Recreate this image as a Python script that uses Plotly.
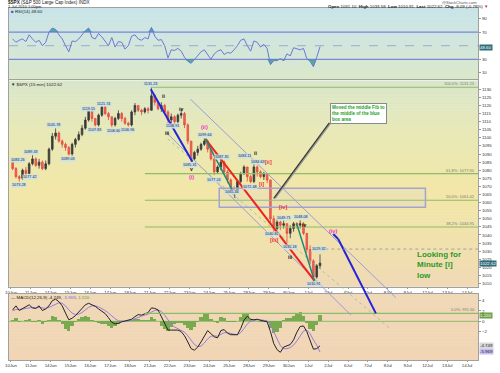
import plotly.graph_objects as go

# ---------------- data ----------------
dates = ["10Jun", "11Jun", "14Jun", "15Jun", "16Jun", "17Jun", "18Jun", "21Jun", "22Jun",
         "23Jun", "24Jun", "25Jun", "28Jun", "29Jun", "30Jun", "1Jul", "2Jul", "6Jul",
         "7Jul", "8Jul", "9Jul", "12Jul", "13Jul", "14Jul"]
BARS_PER_DAY = 6

first_open = 1085.0
close = [1081, 1076, 1075, 1080, 1078, 1084,
         1087, 1083, 1085, 1081, 1084, 1093,
         1101, 1103, 1098, 1096, 1094, 1090,
         1096, 1099, 1102, 1106, 1111, 1117,
         1112, 1108, 1114, 1119, 1115, 1113,
         1108, 1112, 1115, 1112, 1109, 1108,
         1116, 1120, 1117, 1116, 1118, 1117,
         1126, 1122, 1118, 1120, 1116, 1111,
         1113, 1110, 1114, 1115, 1108, 1098,
         1087, 1091, 1093, 1096, 1098, 1093,
         1087, 1079, 1082, 1085, 1079, 1074,
         1068, 1067, 1073, 1078, 1082, 1076,
         1073, 1082, 1079, 1076, 1078, 1074,
         1050, 1044, 1048, 1046, 1047, 1041,
         1044, 1047, 1046, 1047, 1041, 1031,
         1024, 1014, 1021, 1022.62]
high = [1086, 1082, 1077, 1081, 1082, 1085,
        1089.3, 1088, 1087, 1086, 1086, 1094,
        1103, 1105.8, 1104, 1099, 1097, 1095,
        1097, 1100, 1104, 1108, 1113, 1119,
        1117, 1112, 1115, 1121, 1120, 1116,
        1113, 1113, 1117, 1116, 1113, 1110,
        1117, 1121.5, 1120, 1118, 1119, 1119,
        1131.2, 1127, 1123, 1122, 1121, 1117,
        1115, 1114, 1115, 1118, 1116, 1109,
        1098, 1092, 1095, 1097, 1099.6, 1099,
        1093, 1088, 1083, 1087, 1086, 1080,
        1075, 1070, 1074, 1079, 1083.1, 1082,
        1077, 1084.6, 1083, 1080, 1079, 1078,
        1074, 1052, 1050, 1049, 1049, 1047,
        1046, 1048.1, 1048, 1049, 1048, 1041,
        1033.6, 1025, 1022, 1028]
low = [1080, 1075, 1073, 1074, 1077, 1078,
       1083, 1082, 1081, 1080, 1080, 1083,
       1092, 1099, 1097, 1094, 1092, 1089,
       1089, 1094, 1098, 1101, 1105, 1110,
       1110, 1107, 1107, 1113, 1114, 1111,
       1106.6, 1107, 1111, 1110, 1108, 1107,
       1107, 1114, 1116, 1114, 1115, 1115,
       1117, 1120, 1117, 1116, 1115, 1109,
       1109, 1108, 1109, 1112, 1106, 1096,
       1085.3, 1086, 1089, 1092, 1095, 1091,
       1086, 1077, 1078, 1080, 1078, 1072,
       1066, 1064.5, 1066, 1072, 1077, 1073,
       1072, 1072, 1076, 1075, 1074, 1072,
       1048, 1040.8, 1043, 1043, 1044, 1035.2,
       1038, 1042, 1044, 1044, 1040, 1029,
       1022, 1010.9, 1013, 1019]

rsi = [60, 55, 58, 60, 56, 66, 60, 55, 58, 50, 55, 70,
       76, 74, 66, 60, 50, 41, 57, 56, 60, 66, 72, 76,
       62, 60, 68, 63, 57, 50, 62, 48, 56, 55, 45, 50,
       64, 66, 60, 58, 62, 60, 77, 64, 58, 59, 50, 32,
       44, 43, 46, 42, 33, 27, 24, 30, 36, 41, 44, 36,
       30, 38, 42, 44, 37, 40, 39, 44, 50, 58, 60, 50,
       42, 57, 55, 48, 52, 46, 22, 28, 28, 31, 28, 38,
       35, 47, 46, 44, 46, 31, 27, 19, 33, 48.6]

macd = [2.2, 3.0, 2.1, 2.5, 2.8, 3.2, 2.6, 2.5, 3.0, 2.1, 2.4, 3.0,
        4.0, 4.3, 3.8, 3.0, 1.6, 0.3, 0.6, 1.1, 1.8, 2.5, 3.2, 3.5,
        3.2, 2.9, 2.4, 2.0, 1.5, 0.7, -0.2, -0.5, -0.4, -0.1, 0.1, 0.3,
        0.4, 0.9, 1.3, 1.2, 1.5, 1.7, 2.6, 2.5, 2.2, 1.0, -0.3, -1.7,
        -1.7, -1.7, -1.7, -2.0, -2.8, -4.0, -5.3, -5.6, -5.0, -4.0, -2.8, -1.8,
        -2.4, -3.0, -3.2, -1.8, -1.6, -2.3, -2.6, -2.6, -2.6, -1.4, 0.2, 1.0,
        0.4, 0.3, 0.4, 0.2, 0.0, -0.1, -2.0, -4.3, -5.5, -6.0, -5.0, -4.7,
        -4.5, -3.6, -2.1, -1.0, -0.9, -2.0, -3.8, -5.4, -5.3, -4.749]
signal = [2.0, 2.3, 2.3, 2.4, 2.5, 2.7, 2.7, 2.6, 2.7, 2.6, 2.5, 2.7,
          3.0, 3.4, 3.6, 3.5, 3.0, 2.2, 1.6, 1.3, 1.4, 1.7, 2.2, 2.7,
          3.0, 3.0, 2.8, 2.5, 2.1, 1.6, 1.0, 0.5, 0.1, 0.0, 0.0, 0.1,
          0.2, 0.5, 0.8, 1.0, 1.2, 1.4, 1.8, 2.1, 2.2, 1.9, 1.2, 0.2,
          -0.6, -1.1, -1.4, -1.7, -2.1, -2.8, -3.7, -4.5, -4.9, -4.8, -4.2, -3.4,
          -2.9, -2.8, -2.9, -2.6, -2.2, -2.2, -2.4, -2.5, -2.6, -2.2, -1.4, -0.5,
          0.0, 0.2, 0.3, 0.3, 0.2, 0.1, -0.7, -2.1, -3.5, -4.7, -5.3, -5.3,
          -5.1, -4.6, -3.8, -2.8, -1.9, -1.7, -2.4, -3.6, -4.6, -5.969]

fib_levels = [1131.23, 1077.90, 1061.42, 1044.95, 991.60]
fib_names = ["100.0%", "61.8%", "50.0%", "38.2%", "0.0%"]

# ---------------- geometry ----------------
W, H = 500, 373
ML, MR, MT, MB = 5, 22, 8, 10
PW, PH = W - ML - MR, H - MT - MB


def py(pix):
    return (H - MB - pix) / PH


def pxp(pix):
    return (pix - ML) / PW


RSI_DOM = [py(80), py(8)]
PRICE_DOM = [py(289), py(81)]
MACD_DOM = [0.0, py(296)]
X_RANGE = [-0.1, 23.55]
PRICE_RANGE = [1008.1, 1135.5]
RSI_RANGE = [0.4, 105.5]
MACD_RANGE = [-7.5, 5.38]


def pp(price):
    return PRICE_DOM[0] + (price - PRICE_RANGE[0]) / (PRICE_RANGE[1] - PRICE_RANGE[0]) * (PRICE_DOM[1] - PRICE_DOM[0])


n = len(close)
bx = [(i + 0.5) / BARS_PER_DAY for i in range(n)]
opens = [first_open] + close[:-1]
hist = [m - s for m, s in zip(macd, signal)]

fig = go.Figure()

# RSI fills and line
fig.add_trace(go.Scatter(x=bx, y=[70] * n, mode="lines", line=dict(width=0), xaxis="x", yaxis="y",
                         hoverinfo="skip", showlegend=False))
fig.add_trace(go.Scatter(x=bx, y=[max(v, 70) for v in rsi], mode="lines", line=dict(width=0), fill="tonexty",
                         fillcolor="rgba(55,150,150,0.8)", xaxis="x", yaxis="y", hoverinfo="skip", showlegend=False))
fig.add_trace(go.Scatter(x=bx, y=[30] * n, mode="lines", line=dict(width=0), xaxis="x", yaxis="y",
                         hoverinfo="skip", showlegend=False))
fig.add_trace(go.Scatter(x=bx, y=[min(v, 30) for v in rsi], mode="lines", line=dict(width=0), fill="tonexty",
                         fillcolor="rgba(55,150,150,0.8)", xaxis="x", yaxis="y", hoverinfo="skip", showlegend=False))
fig.add_trace(go.Scatter(x=bx, y=rsi, mode="lines", line=dict(color="#6b78d8", width=1), xaxis="x", yaxis="y",
                         showlegend=False))

# Price candles
fig.add_trace(go.Candlestick(x=bx, open=opens, high=high, low=low, close=close, xaxis="x2", yaxis="y2",
                             increasing=dict(line=dict(color="#3a3a3a", width=0.8), fillcolor="#3a3a3a"),
                             decreasing=dict(line=dict(color="#e5483f", width=0.8), fillcolor="#ee6a5c"),
                             whiskerwidth=0, showlegend=False))

# MACD
fig.add_trace(go.Bar(x=bx, y=hist, xaxis="x3", yaxis="y3", width=1 / BARS_PER_DAY,
                     marker=dict(color="#7aaa50", line=dict(width=0)), showlegend=False))
fig.add_trace(go.Scatter(x=bx, y=signal, mode="lines", line=dict(color="#9a7be0", width=1), xaxis="x3", yaxis="y3",
                         showlegend=False))
fig.add_trace(go.Scatter(x=bx, y=macd, mode="lines", line=dict(color="#222222", width=1), xaxis="x3", yaxis="y3",
                         showlegend=False))

shapes = []


# ---------------- gradient backgrounds ----------------
def h2r(h):
    h = h.lstrip("#")
    return [int(h[i:i + 2], 16) for i in (0, 2, 4)]


def interp(stops, y):
    if y <= stops[0][0]:
        return stops[0][1]
    for (y0, c0), (y1, c1) in zip(stops[:-1], stops[1:]):
        if y0 <= y <= y1:
            t = (y - y0) / (y1 - y0)
            a, b = h2r(c0), h2r(c1)
            return "rgb(%d,%d,%d)" % tuple(round(a[k] + (b[k] - a[k]) * t) for k in range(3))
    return stops[-1][1]


def stripes(top, bot, stops, step=3):
    y = top
    while y < bot:
        b = min(y + step, bot)
        shapes.append(dict(type="rect", xref="paper", yref="paper", x0=0, x1=1,
                           y0=py(min(b + 0.6, bot)), y1=py(y), fillcolor=interp(stops, (y + b) / 2),
                           line=dict(width=0), layer="below"))
        y = b


stripes(8, 80, [(8, "#c9e4e8"), (45, "#d2e6dc"), (80, "#dbe8c9")])
stripes(81, 289, [(81, "#d9e6cb"), (130, "#e7e9b8"), (190, "#f2e7a8"), (250, "#f1e1ae"), (289, "#efd9b6")])
stripes(296, 363, [(296, "#f0d9b8"), (363, "#f1d5b5")])

# RSI reference lines
for lvl, dash, col, w in [(70, "solid", "#7b86dc", 1.3), (30, "solid", "#7b86dc", 1.3), (50, "dash", "#a7a7c8", 1)]:
    shapes.append(dict(type="line", xref="paper", yref="y", x0=0, x1=1, y0=lvl, y1=lvl,
                       line=dict(color=col, width=w, dash=dash), layer="below"))
# MACD zero line
shapes.append(dict(type="line", xref="paper", yref="y3", x0=0, x1=1, y0=0, y1=0,
                   line=dict(color="#8dbb68", width=1), layer="below"))


def seg(x0, p0, x1, p1, color, width, dash="solid"):
    shapes.append(dict(type="line", xref="x2", yref="paper", x0=x0, x1=x1, y0=pp(p0), y1=pp(p1),
                       line=dict(color=color, width=width, dash=dash)))


# Fibonacci lines
fib_start = [7.05, 6.75, 6.75, 6.75, 6.75]
for lvl, xs in zip(fib_levels, fib_start):
    seg(xs, lvl, X_RANGE[1], lvl, "#8dbb68", 1.1)

# blue box
shapes.append(dict(type="rect", xref="x2", yref="paper", x0=10.5, x1=20.9, y0=pp(1057.1), y1=pp(1068.8),
                   line=dict(color="#a3a3d3", width=1.5), fillcolor="rgba(200,200,235,0.12)"))

# channel & trend lines
seg(9.05, 1123.9, 19.4, 1001.4, "#9b9bdb", 1)
seg(7.8, 1103.7, 17.15, 990.4, "#9b9bdb", 1)
seg(7.9, 1099.4, 19.15, 981.8, "#90c090", 0.8, "dot")
seg(7.05, 1130.0, 9.15, 1085.3, "#2424d8", 2)
seg(9.8, 1099.4, 15.3, 1011.8, "#ee2222", 2)
seg(9.8, 1099.4, 11.25, 1065.7, "#1b8a78", 1.5)
seg(14.4, 1047.3, 15.3, 1011.8, "#1b8a78", 1.5)
seg(16.25, 1040.6, 16.5, 1037.5, "#2424d8", 2)
seg(16.5, 1037.5, 18.4, 991.6, "#2424d8", 2)
seg(15.55, 1031.3, X_RANGE[1], 1031.3, "#a0a0a0", 1, "dot")
# callout pointer
seg(16.12, 1109.2, 13.32, 1062.6, "#9a9a9a", 1.5)
seg(16.05, 1109.2, 13.25, 1062.6, "#333333", 1.2)

annotations = []


def ann(text, x, y, xref="x2", yref="y2", size=5, color="#222", bold=False, xanchor="center", yanchor="middle",
        bg=None, border=None, align="center", pad=0):
    a = dict(text=("<b>%s</b>" % text) if bold else text, x=x, y=y, xref=xref, yref=yref, showarrow=False,
             font=dict(size=size, color=color, family="Liberation Sans, Arial, sans-serif"),
             xanchor=xanchor, yanchor=yanchor, align=align, borderpad=pad)
    if bg:
        a["bgcolor"] = bg
    if border:
        a["bordercolor"] = border
        a["borderwidth"] = 1
    annotations.append(a)


# header
ann("<b>$SPX</b> (S&P 500 Large Cap Index) INDX", pxp(3), py(2.5), "paper", "paper", size=4.6, xanchor="left")
ann("1-Jul-2010 1:00pm", pxp(3), py(6.5), "paper", "paper", size=4.0, xanchor="left")
ann("@StockCharts.com", pxp(478), py(2.3), "paper", "paper", size=4, color="#555", xanchor="right")
ann("<b>Open</b> 1031.10  <b>High</b> 1033.58  <b>Low</b> 1010.91  <b>Last</b> 1022.62  <b>Chg</b> -8.09 (-0.78%) "
    "<span style='color:#dd2222'>▼</span>", pxp(489), py(6.2), "paper", "paper", size=4.4, xanchor="right")

# legends
ann("<span style='color:#4455cc'>■</span> RSI(14) 48.60", pxp(6), py(11.5), "paper", "paper", size=4.4,
    xanchor="left")
ann("▼ $SPX (15 min) 1022.62", pxp(6), py(85), "paper", "paper", size=4.4, xanchor="left")
ann("— MACD(12,26,9) -4.749, <span style='color:#8a6ad8'>-5.969</span>, <span style='color:#5f9a3a'>1.220</span>",
    pxp(6), py(299.5), "paper", "paper", size=4.4, xanchor="left")

# right-side value boxes
ann("48.60", pxp(479), 47.6, "paper", "y", size=4.4, color="white", xanchor="left", bg="#2e6e7a")
ann("1022.62", pxp(479), 1022.62, "paper", "y2", size=4.4, color="white", xanchor="left", bg="#2e6e7a")
ann("1.220", pxp(479), 1.22, "paper", "y3", size=4.4, color="white", xanchor="left", bg="#6fa046")
ann("-4.749", pxp(479), -4.75, "paper", "y3", size=4.4, color="#222", xanchor="left", bg="#d9d9d9")
ann("-5.969", pxp(479), -5.9, "paper", "y3", size=4.4, color="#222", xanchor="left", bg="#c7bdf2")

# fib labels
for lvl, nm in zip(fib_levels, fib_names):
    ann("%s: %.2f" % (nm, lvl), pxp(476), pp(lvl), "paper", "paper", size=4, color="#7a7a7a",
        xanchor="right", yanchor="bottom")

# price labels
price_labels = [
    (-0.05, 1086.5, "1083.26"), (0.4, 1070.6, "1073.28"), (0.95, 1076.1, "1077.42"), (1.0, 1091.0, "1089.33"),
    (2.15, 1108.0, "1105.78"), (2.9, 1087.1, "1089.03"), (3.9, 1117.8, "1119.55"), (4.2, 1104.9, "1107.83"),
    (4.65, 1121.0, "1121.74"), (5.15, 1104.3, "1106.60"), (5.9, 1104.9, "1106.96"), (7.05, 1133.1, "1131.23"),
    (8.15, 1107.3, "1108.91"), (9.05, 1083.5, "1085.31"), (9.8, 1101.8, "1099.64"), (10.25, 1073.7, "1077.24"),
    (10.65, 1088.4, "1087.35"), (11.15, 1066.3, "1065.34"), (11.75, 1088.6, "1083.11"),
    (12.05, 1069.4, "1072.48"), (12.45, 1085.3, "1084.63"), (13.15, 1040.6, "1040.82"),
    (13.75, 1050.8, "1049.71"), (14.6, 1051.0, "1048.08"), (14.05, 1032.6, "1035.18"),
    (15.3, 1009.6, "1010.91"), (15.55, 1031.4, "1029.32"),
]
for x, y, t in price_labels:
    ann(t, x, y, size=3.8, color="#223", bg="rgba(200,225,236,0.95)", xanchor="left" if x < 0 else "center")

# wave labels
waves = [
    ("ii", "#111", 7.7, 1125.7), ("iii", "#111", 7.9, 1103.1), ("iv", "#111", 8.55, 1117.8),
    ("v", "#111", 9.1, 1081.0), ("(i)", "#ee33cc", 9.1, 1076.1), ("(ii)", "#ee33cc", 9.75, 1106.7),
    ("i", "#111", 11.3, 1063.9), ("ii", "#111", 12.35, 1090.5), ("[i]", "#ee3333", 12.65, 1071.2),
    ("[ii]", "#ee3333", 13.0, 1085.3), ("[iii]", "#ee3333", 13.25, 1036.9), ("[iv]", "#ee3333", 13.7, 1057.0),
    ("iii", "#111", 14.1, 1026.5), ("iv", "#111", 14.8, 1046.0), ("v", "#111", 15.3, 1006.3),
    ("(iii)", "#ee33cc", 15.35, 1000.8), ("(iv)", "#ee33cc", 16.25, 1042.4), ("(v)", "#ee33cc", 18.35, 987.3),
]
for t, c, x, y in waves:
    ann(t, x, y, size=5.5 if c != "#111" else 5, color=c, bold=True)

ann("ALT:[i]", 15.3, 995.3, size=6, color="#239a23", bold=True)
ann("[i]", 18.5, 981.2, size=7, color="#239a23", bold=True)
ann("Looking for<br>Minute [i]<br>low", 20.4, 1021.5, size=8, color="#2a9a2a", bold=True, xanchor="left",
    align="left")
ann("Moved the middle Fib to<br>the middle of the blue<br>box area", 16.1, 1121.4, size=4.6, color="#22a022",
    bold=True, xanchor="left", yanchor="top", bg="white", border="#8a8a8a", align="left", pad=1)

axis_font = dict(size=4.4, color="#333", family="Liberation Sans, Arial, sans-serif")
xcommon = dict(range=X_RANGE, showgrid=False, zeroline=False, showline=True, mirror=True, linecolor="#a0a0a0",
               linewidth=1, tickvals=list(range(len(dates))), ticktext=dates, tickfont=axis_font,
               ticks="outside", ticklen=1, tickcolor="#999")
ycommon = dict(side="right", showgrid=False, zeroline=False, showline=True, mirror=True, linecolor="#a0a0a0",
               linewidth=1, tickfont=axis_font, ticks="outside", ticklen=2, tickcolor="#999")

fig.update_layout(
    width=W, height=H, margin=dict(l=ML, r=MR, t=MT, b=MB),
    paper_bgcolor="white", plot_bgcolor="rgba(0,0,0,0)", showlegend=False, bargap=0,
    xaxis=dict(xcommon, anchor="y", domain=[0, 1], showticklabels=False, ticks=""),
    xaxis2=dict(xcommon, anchor="y2", domain=[0, 1], matches="x", rangeslider=dict(visible=False)),
    xaxis3=dict(xcommon, anchor="y3", domain=[0, 1], matches="x"),
    yaxis=dict(ycommon, anchor="x", domain=RSI_DOM, range=RSI_RANGE, tickvals=[10, 30, 70, 90]),
    yaxis2=dict(ycommon, anchor="x2", domain=PRICE_DOM, range=PRICE_RANGE, tickvals=list(range(1010, 1131, 5))),
    yaxis3=dict(ycommon, anchor="x3", domain=MACD_DOM, range=MACD_RANGE, tickvals=[-2, 0, 2, 4]),
    shapes=shapes, annotations=annotations,
)

fig.write_html("out.html", config={"displayModeBar": False, "staticPlot": True},
               post_script="document.body.style.margin='0';document.body.style.padding='0';"
                           "document.body.style.overflow='hidden';")
